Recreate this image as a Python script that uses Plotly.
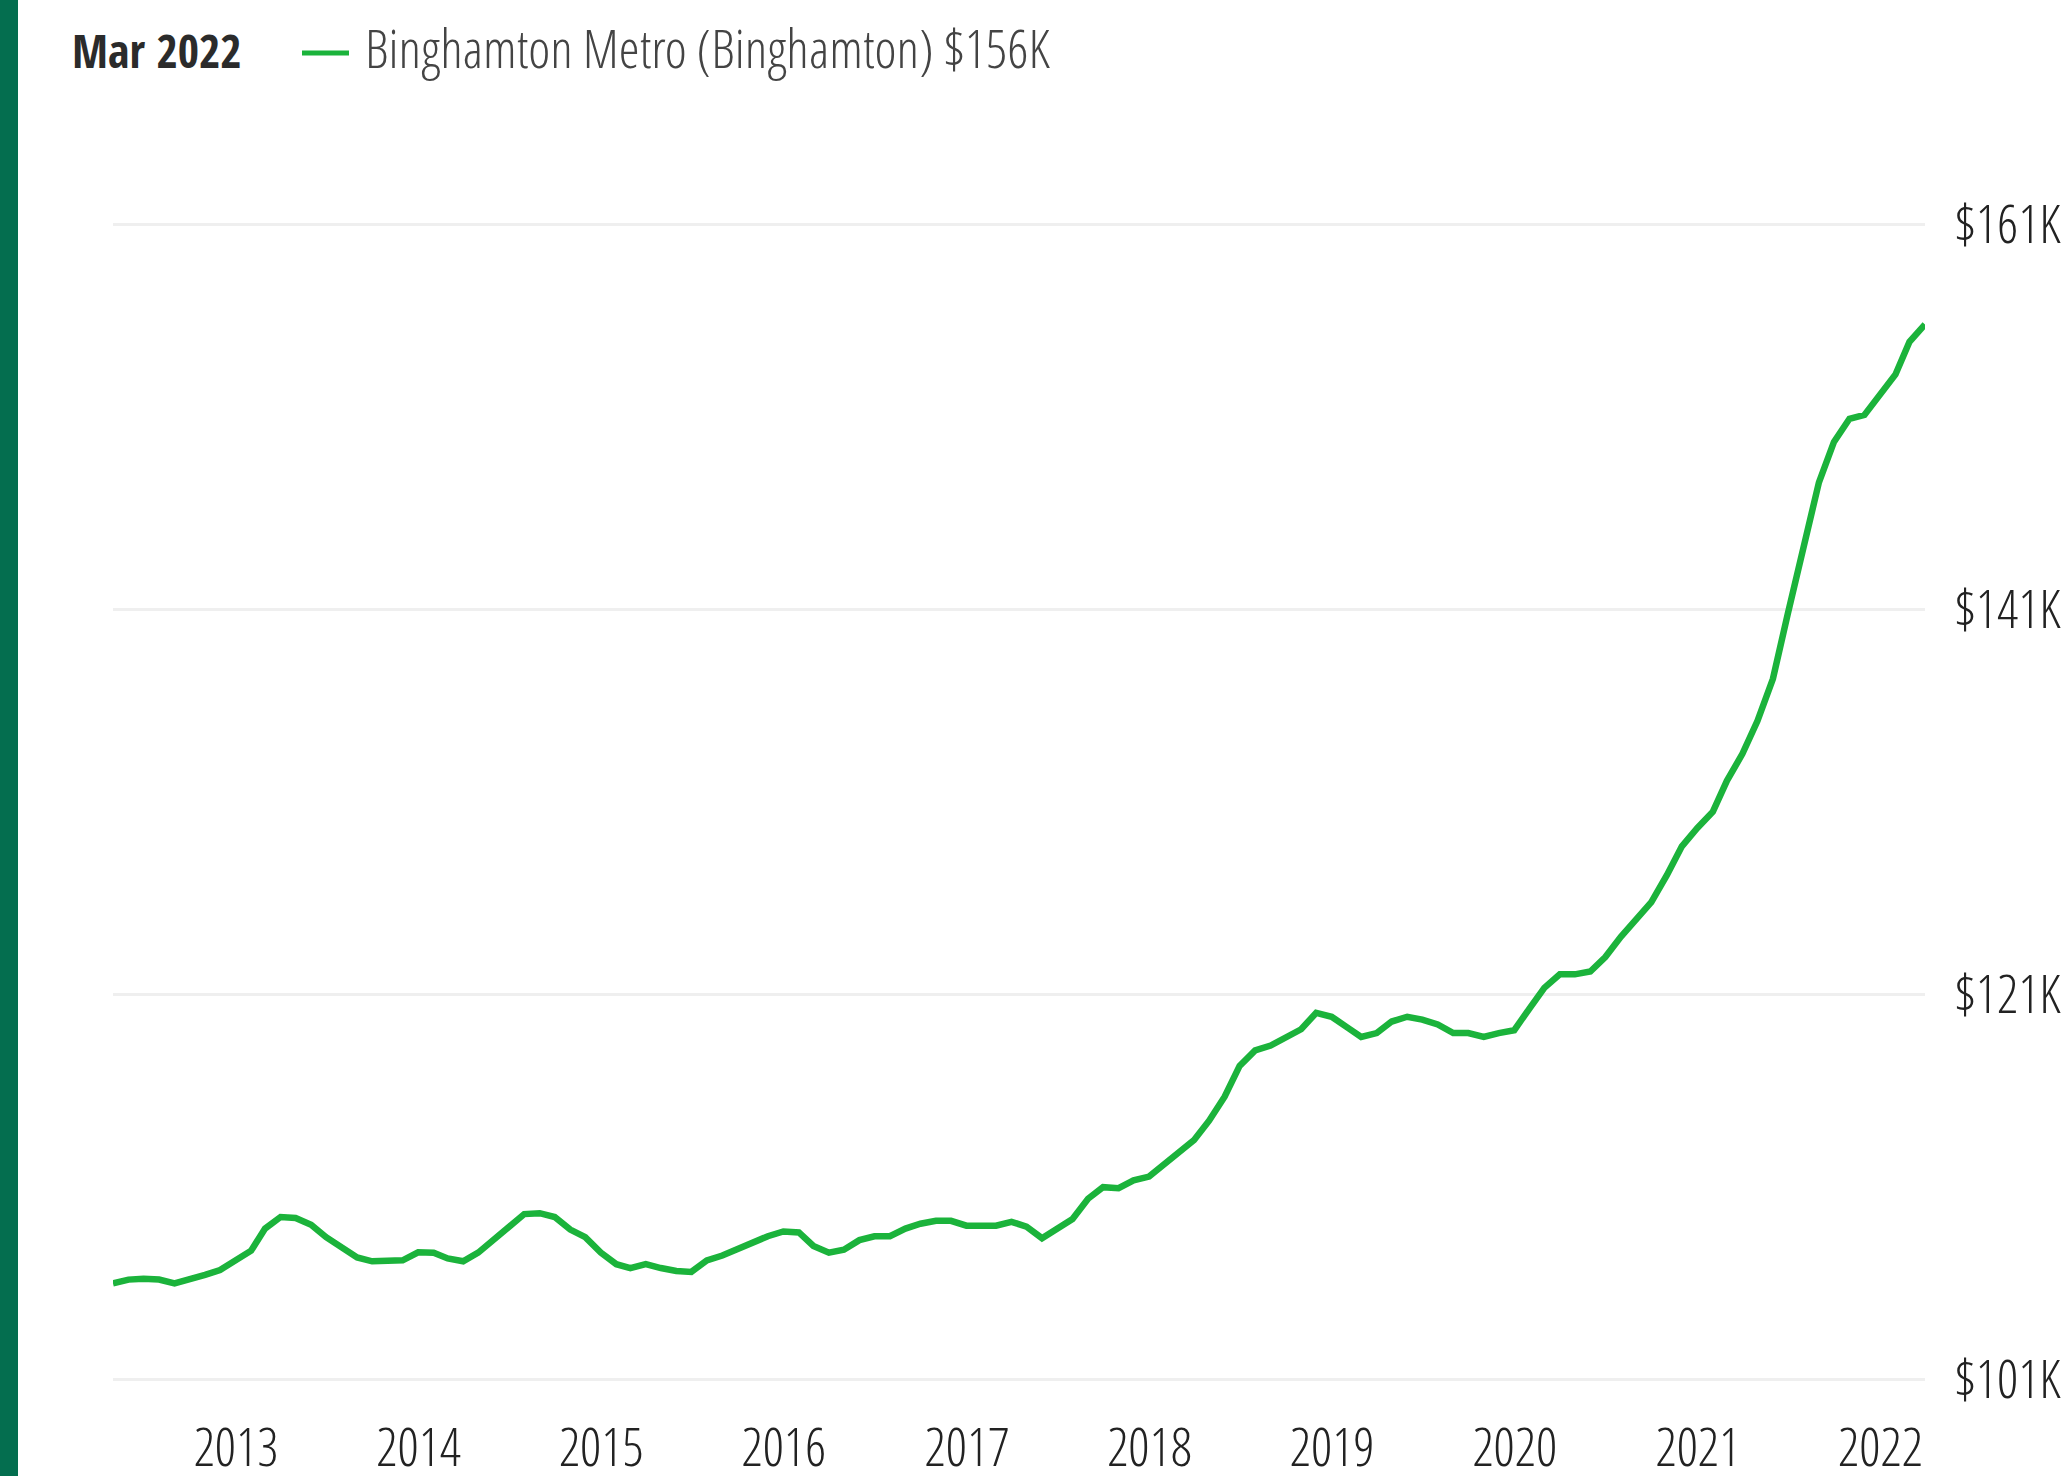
import plotly.graph_objects as go
import pandas as pd

# ---- data (thousands of USD), monthly end-of-month values Apr 2012 .. Mar 2022 ----
series_name = "Binghamton Metro (Binghamton)"
header_label = "Mar 2022"
start_month = "2012-04-30"
values_k = [
    106.0, 106.2, 106.25, 106.2, 106.0, 106.2, 106.45, 106.7, 107.2, 107.7,
    108.85, 109.45, 109.4, 109.05, 108.4, 107.9, 107.35, 107.15, 107.15, 107.2,
    107.62, 107.6, 107.3, 107.15, 107.6, 108.3, 108.9, 109.6, 109.65, 109.45,
    108.8, 108.4, 107.6, 107.0, 106.8, 107.0, 106.8, 106.65, 106.6, 107.2,
    107.45, 107.8, 108.1, 108.45, 108.7, 108.65, 107.95, 107.6, 107.75, 108.25,
    108.45, 108.45, 108.85, 109.1, 109.25, 109.25, 109.0, 109.0, 109.0, 109.2,
    108.95, 108.35, 108.8, 109.35, 110.4, 111.0, 110.95, 111.35, 111.55, 112.2,
    112.85, 113.45, 114.45, 115.7, 117.3, 118.1, 118.35, 118.75, 119.2, 120.05,
    119.85, 119.3, 118.8, 119.0, 119.6, 119.85, 119.7, 119.45, 119.0, 119.0,
    118.8, 119.0, 119.15, 120.3, 121.35, 122.05, 122.05, 122.2, 122.95, 124.0,
    124.9, 125.8, 127.2, 128.7, 129.65, 130.5, 132.1, 133.5, 135.2, 137.4,
    140.8, 144.2, 147.6, 149.7, 150.9, 151.1, 152.2, 153.2, 154.9, 155.8,
]
y_tick_vals = [101, 121, 141, 161]
y_tick_text = ["$101K", "$121K", "$141K", "$161K"]
x_tick_vals = [f"{y}-01-01" for y in range(2013, 2023)]
x_tick_text = [str(y) for y in range(2013, 2023)]

dates = pd.date_range(start=start_month, periods=len(values_k), freq="ME")

LINE_GREEN = "#1bb33b"
BAR_GREEN = "#046e4f"
FONT = "Open Sans Condensed Light, Roboto Condensed, DejaVu Sans Condensed, sans-serif"
FONT_BOLD = "Open Sans Condensed, Roboto Condensed, DejaVu Sans Condensed, sans-serif"

W, H = 2065, 1476
ML, MR, MT, MB = 113, 140, 205, 77
pw = W - ML - MR
ph = H - MT - MB

def px_x(x):
    return (x - ML) / pw

def px_y(y):
    return (H - MB - y) / ph

fig = go.Figure()
fig.add_trace(go.Scatter(
    x=dates, y=values_k, mode="lines",
    line=dict(color=LINE_GREEN, width=6.5, shape="linear"),
    name=series_name, showlegend=False, hoverinfo="skip",
))

fig.update_layout(
    width=W, height=H, autosize=False,
    margin=dict(l=ML, r=MR, t=MT, b=MB, pad=0, autoexpand=False),
    paper_bgcolor="white", plot_bgcolor="white",
    font=dict(family=FONT, color="#2b2b2b", size=53),
    xaxis=dict(
        range=[dates[0], dates[-1]], automargin=False,
        tickvals=x_tick_vals, ticktext=x_tick_text,
        showgrid=False, zeroline=False, showline=False,
        ticks="outside", ticklen=0, ticklabelstandoff=2,
        tickfont=dict(family=FONT, size=53, color="#222222"),
    ),
    yaxis=dict(
        range=[100, 162], side="right", automargin=False,
        tickvals=y_tick_vals, ticktext=y_tick_text,
        showgrid=True, gridcolor="#efefef", gridwidth=2.5,
        zeroline=False, showline=False,
        ticks="outside", ticklen=0, ticklabelstandoff=18,
        tickfont=dict(family=FONT, size=53, color="#222222"),
    ),
    shapes=[
        dict(type="rect", xref="paper", yref="paper",
             x0=px_x(0), x1=px_x(18), y0=px_y(H), y1=px_y(0),
             fillcolor=BAR_GREEN, line=dict(width=0), layer="above"),
        dict(type="line", xref="paper", yref="paper",
             x0=px_x(302), x1=px_x(349), y0=px_y(53), y1=px_y(53),
             line=dict(color=LINE_GREEN, width=5)),
    ],
    annotations=[
        dict(text=header_label, xref="paper", yref="paper",
             x=px_x(70), y=px_y(50), xanchor="left", yanchor="middle",
             showarrow=False, font=dict(family=FONT_BOLD, size=46, color="#2b2b2b")),
        dict(text=f"{series_name} ${round(values_k[-1])}K", xref="paper", yref="paper",
             x=px_x(363), y=px_y(47), xanchor="left", yanchor="middle",
             showarrow=False, font=dict(family=FONT, size=53, color="#444444")),
    ],
)

post = """
document.documentElement.style.margin='0';
document.documentElement.style.padding='0';
document.documentElement.style.overflow='hidden';
document.body.style.margin='0';
document.body.style.padding='0';
document.body.style.overflow='hidden';
"""

fig.write_html("out.html", config={"displayModeBar": False}, post_script=post)
